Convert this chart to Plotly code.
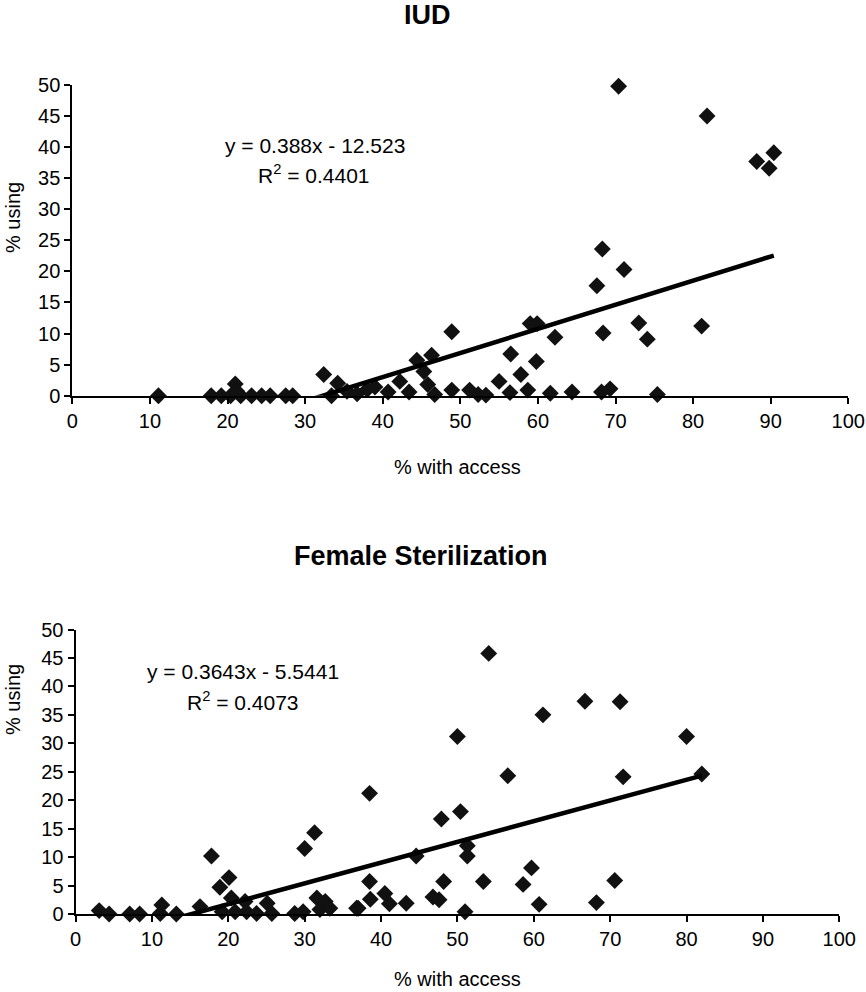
import plotly.graph_objects as go

# ---------------- data ----------------
iud_access = [11.1, 17.9, 19.2, 20.4, 21.0, 21.2, 21.7, 23.1, 24.4, 25.5, 27.5, 28.4,
              32.4, 33.4, 34.2, 35.4, 36.7, 38.0, 39.0, 40.7, 42.2, 43.4, 44.4, 45.3,
              45.8, 46.3, 46.7, 48.9, 48.9, 51.2, 52.3, 53.3, 55.0, 56.4, 56.5, 57.8,
              58.7, 59.0, 59.9, 59.8, 61.6, 62.2, 64.4, 67.6, 68.2, 68.3, 68.4, 69.3,
              70.4, 71.1, 73.0, 74.1, 75.4, 81.1, 81.8, 88.2, 89.8, 90.4]
iud_using = [0, 0, 0, 0, 1.9, 0.7, 0, 0, 0, 0, 0, 0,
             3.4, 0, 2.0, 0.7, 0.3, 1.0, 1.4, 0.6, 2.3, 0.6, 5.7, 3.9,
             1.8, 6.5, 0.2, 10.3, 0.9, 0.9, 0.2, 0.1, 2.3, 0.5, 6.7, 3.4,
             0.9, 11.6, 11.6, 5.5, 0.4, 9.4, 0.6, 17.7, 0.6, 23.6, 10.1, 1.1,
             49.8, 20.3, 11.7, 9.1, 0.2, 11.2, 45.0, 37.7, 36.6, 39.1]
iud_slope, iud_intercept = 0.388, -12.523
iud_eq = "y = 0.388x - 12.523"
iud_r2 = "R<sup>2</sup> = 0.4401"

fs_access = [3.1, 4.4, 7.1, 8.4, 11.1, 11.3, 13.2, 16.3, 17.8, 18.9, 19.2, 20.1,
             20.4, 20.9, 22.2, 22.4, 23.7, 25.1, 25.7, 28.7, 29.8, 30.0, 31.3, 31.6,
             32.0, 32.7, 33.3, 36.8, 37.0, 38.5, 38.5, 38.6, 40.5, 41.1, 43.3, 44.6,
             46.8, 47.6, 47.9, 48.2, 50.0, 50.4, 51.0, 51.3, 51.3, 53.4, 54.1, 56.6,
             58.6, 59.7, 60.7, 61.2, 66.7, 68.2, 70.6, 71.3, 71.7, 80.0, 82.0]
fs_using = [0.6, 0, 0, 0, 0.1, 1.6, 0, 1.3, 10.2, 4.7, 0.4, 6.4,
            2.8, 0.4, 2.2, 0.4, 0.1, 1.9, 0.1, 0.1, 0.4, 11.5, 14.3, 2.8,
            0.8, 2.2, 1.0, 1.0, 1.0, 21.2, 5.7, 2.6, 3.6, 1.8, 1.9, 10.2,
            3.0, 2.5, 16.7, 5.7, 31.2, 18.0, 0.4, 12.0, 10.2, 5.7, 45.8, 24.3,
            5.2, 8.1, 1.7, 35.0, 37.4, 2.0, 5.9, 37.3, 24.1, 31.2, 24.6]
fs_slope, fs_intercept = 0.3643, -5.5441
fs_eq = "y = 0.3643x - 5.5441"
fs_r2 = "R<sup>2</sup> = 0.4073"

x_ticks = list(range(0, 101, 10))
y_ticks = list(range(0, 51, 5))
x_title = "% with access"
y_title = "% using"
titles = ["IUD", "Female Sterilization"]

# ---------------- figure ----------------
W, H = 866, 992
FONT = "Arial, Liberation Sans, Helvetica, sans-serif"
INK = "#111111"

def px(x):
    return x / W

def py(y):
    return 1 - y / H

fig = go.Figure()

def add_panel(xs, ys, slope, intercept, xa, ya):
    fig.add_trace(go.Scatter(
        x=xs, y=ys, mode="markers", xaxis=xa, yaxis=ya,
        marker=dict(symbol="diamond", size=13, color=INK, line=dict(width=0)),
        cliponaxis=False, showlegend=False, hoverinfo="skip"))
    lx = [min(xs), max(xs)]
    ly = [slope * v + intercept for v in lx]
    fig.add_trace(go.Scatter(
        x=lx, y=ly, mode="lines", xaxis=xa, yaxis=ya,
        line=dict(color="black", width=4.5), showlegend=False, hoverinfo="skip"))

add_panel(iud_access, iud_using, iud_slope, iud_intercept, "x", "y")
add_panel(fs_access, fs_using, fs_slope, fs_intercept, "x2", "y2")

axis_common = dict(showline=True, linecolor="black", linewidth=2,
                   ticks="outside", ticklen=6, tickwidth=2, tickcolor="black",
                   showgrid=False, zeroline=False, automargin=False,
                   tickfont=dict(family=FONT, size=20, color="black"))

fig.update_layout(
    width=W, height=H, margin=dict(l=0, r=0, t=0, b=0, autoexpand=False),
    paper_bgcolor="white", plot_bgcolor="white",
    xaxis=dict(domain=[px(72.3), px(848.3)], range=[0, 100], tickvals=x_ticks,
               anchor="y", **axis_common),
    yaxis=dict(domain=[py(395.7), py(85)], range=[0, 50], tickvals=y_ticks,
               anchor="x", **axis_common),
    xaxis2=dict(domain=[px(75.5), px(839.3)], range=[0, 100], tickvals=x_ticks,
                anchor="y2", **axis_common),
    yaxis2=dict(domain=[py(914), py(629.5)], range=[0, 50], tickvals=y_ticks,
                anchor="x2", **axis_common),
)

def note(text, x, y, size=20, bold=False, angle=0):
    fig.add_annotation(text=f"<b>{text}</b>" if bold else text,
                       x=px(x), y=py(y), xref="paper", yref="paper",
                       xanchor="center", yanchor="middle", showarrow=False,
                       textangle=angle,
                       font=dict(family=FONT, size=size, color="black"))

note(titles[0], 427, 15, size=27, bold=True)
note(titles[1], 421, 556, size=27, bold=True)
note(iud_eq, 314.5, 145, size=21)
note(iud_r2, 314, 174, size=21)
note(fs_eq, 243, 671, size=21)
note(fs_r2, 242.5, 701, size=21)
note(x_title, 457, 467, size=20)
note(x_title, 457, 979, size=20)
note(y_title, 13, 218, size=20, angle=-90)
note(y_title, 13, 700, size=20, angle=-90)

fig.write_html(
    "out.html",
    config={"displayModeBar": False},
    post_script="document.body.style.margin='0';document.body.style.overflow='hidden';",
)
